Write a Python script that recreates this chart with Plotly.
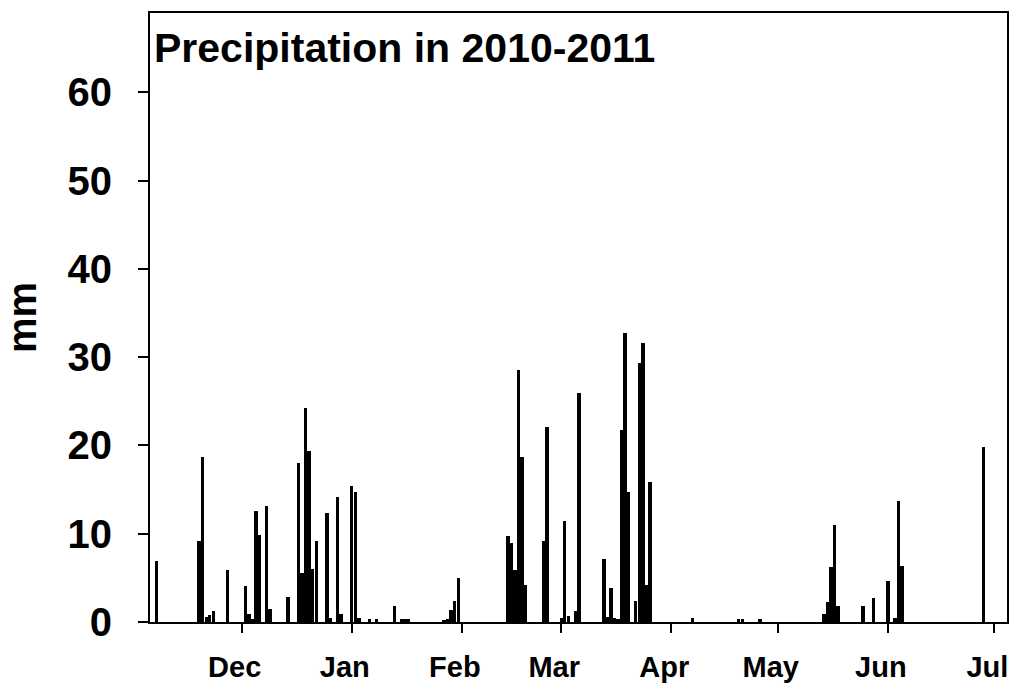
import plotly.graph_objects as go

# Daily precipitation (mm), Nov 2010 - Jul 2011
dates = [
    "2010-11-07", "2010-11-19", "2010-11-20", "2010-11-21", "2010-11-22", "2010-11-23", "2010-11-27",
    "2010-12-02", "2010-12-03", "2010-12-04", "2010-12-05", "2010-12-06", "2010-12-08", "2010-12-09",
    "2010-12-14", "2010-12-17", "2010-12-18", "2010-12-19", "2010-12-20", "2010-12-21", "2010-12-22",
    "2010-12-25", "2010-12-26", "2010-12-28", "2010-12-29",
    "2011-01-01", "2011-01-02", "2011-01-03", "2011-01-06", "2011-01-08", "2011-01-13",
    "2011-01-15", "2011-01-16", "2011-01-17", "2011-01-27", "2011-01-28", "2011-01-29",
    "2011-01-30", "2011-01-31",
    "2011-02-14", "2011-02-15", "2011-02-16", "2011-02-17", "2011-02-18", "2011-02-19",
    "2011-02-24", "2011-02-25",
    "2011-03-01", "2011-03-02", "2011-03-03", "2011-03-05", "2011-03-06", "2011-03-13",
    "2011-03-14", "2011-03-15", "2011-03-16", "2011-03-17", "2011-03-18", "2011-03-19",
    "2011-03-20", "2011-03-22", "2011-03-23", "2011-03-24", "2011-03-25", "2011-03-26",
    "2011-04-07", "2011-04-20", "2011-04-21", "2011-04-26",
    "2011-05-14", "2011-05-15", "2011-05-16", "2011-05-17", "2011-05-18", "2011-05-25",
    "2011-05-28",
    "2011-06-01", "2011-06-03", "2011-06-04", "2011-06-05", "2011-06-28",
]
precip_mm = [
    6.9, 9.2, 18.7, 0.6, 0.8, 1.3, 5.9,
    4.1, 0.95, 0.3, 12.6, 9.9, 13.1, 1.5,
    2.8, 18.0, 5.5, 24.3, 19.4, 6.0, 9.2,
    12.4, 0.4, 14.2, 0.95,
    15.4, 14.7, 0.5, 0.3, 0.3, 1.8,
    0.3, 0.3, 0.3, 0.2, 0.3, 1.4,
    2.35, 5.0,
    9.8, 8.9, 5.9, 28.6, 18.7, 4.2,
    9.2, 22.1,
    0.45, 11.5, 0.7, 1.3, 26.0, 7.1,
    0.6, 3.8, 0.4, 0.3, 21.8, 32.7,
    14.7, 2.4, 29.3, 31.6, 4.2, 15.9,
    0.45, 0.3, 0.3, 0.3,
    0.95, 2.3, 6.2, 11.0, 1.8, 1.8,
    2.75,
    4.6, 0.4, 13.7, 6.4, 19.8,
]

month_ticks = ["2010-12-01", "2011-01-01", "2011-02-01", "2011-03-01",
               "2011-04-01", "2011-05-01", "2011-06-01", "2011-07-01"]
month_labels = ["Dec", "Jan", "Feb", "Mar", "Apr", "May", "Jun", "Jul"]
y_ticks = [0, 10, 20, 30, 40, 50, 60]

title_text = "Precipitation in 2010-2011"
y_title = "mm"

FONT = "Liberation Sans, Arial, sans-serif"
DAY_MS = 86400000

fig = go.Figure()
fig.add_trace(go.Bar(
    x=dates, y=precip_mm,
    width=[0.95 * DAY_MS] * len(dates),
    marker=dict(color="black", line=dict(width=0)),
    showlegend=False,
))

fig.update_layout(
    width=1013, height=686,
    paper_bgcolor="white", plot_bgcolor="white",
    margin=dict(l=150, r=6, t=13, b=64, pad=0),
    bargap=0,
    font=dict(family=FONT, color="black"),
    xaxis=dict(
        type="date", automargin=False,
        range=["2010-11-05 04:00", "2011-07-04 13:40"],
        tickvals=month_ticks, ticktext=month_labels,
        ticks="outside", ticklen=9, tickwidth=2, tickcolor="black",
        showline=True, linecolor="black", linewidth=2, mirror=True,
        showgrid=False, zeroline=False,
        tickfont=dict(family=FONT, size=29, weight="bold", color="black"),
        ticklabelshift=-7,
        ticklabelstandoff=9,
        ticklabeloverflow="allow",
    ),
    yaxis=dict(
        range=[0, 69], automargin=False,
        tickvals=y_ticks,
        ticks="outside", ticklen=10, tickwidth=2, tickcolor="black",
        showline=True, linecolor="black", linewidth=2, mirror=True,
        showgrid=False, zeroline=False,
        tickfont=dict(family=FONT, size=40, weight="bold", color="black"),
        ticklabelstandoff=18,
    ),
    annotations=[
        dict(text=title_text, xref="paper", yref="paper", x=0.0, y=1.0,
             xanchor="left", yanchor="top", showarrow=False, yshift=-10, xshift=2,
             font=dict(family=FONT, size=41, weight="bold", color="black")),
        dict(text=y_title, xref="paper", yref="paper", x=-0.15, y=0.5,
             xanchor="center", yanchor="middle", textangle=-90, showarrow=False,
             font=dict(family=FONT, size=40, weight="bold", color="black")),
    ],
)

fig.write_html("out.html", config={"displayModeBar": False},
               post_script="document.body.style.margin='0px';")
